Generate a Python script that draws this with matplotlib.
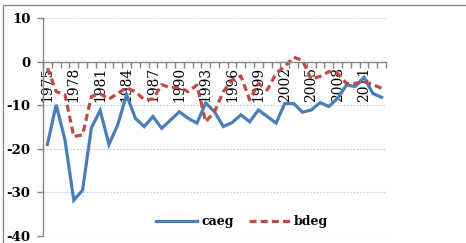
import numpy as np
import matplotlib
matplotlib.use("Agg")
import matplotlib.pyplot as plt
from matplotlib.patches import Rectangle

years = list(range(1975, 2014))
caeg = [-19.0, -9.9, -18.0, -31.8, -29.5, -15.2, -11.2, -19.0, -14.5, -7.6,
        -13.0, -14.9, -12.6, -15.3, -13.4, -11.5, -13.0, -14.1, -9.5, -11.5,
        -14.9, -14.0, -12.2, -13.8, -11.1, -12.6, -14.1, -9.6, -9.6, -11.6,
        -11.1, -9.4, -10.3, -8.4, -5.4, -5.7, -3.6, -7.3, -8.2]
bdeg = [-1.5, -6.9, -7.6, -17.2, -16.8, -8.0, -7.4, -8.6, -7.3, -6.0,
        -6.9, -8.7, -8.6, -5.3, -6.0, -5.9, -6.9, -5.4, -13.8, -11.5,
        -6.9, -4.2, -3.3, -8.8, -5.0, -6.5, -2.7, -1.1, 1.0, 0.3,
        -4.0, -3.4, -2.3, -2.7, -5.0, -5.0, -4.6, -5.3, -6.1]
yticks = [10, 0, -10, -20, -30, -40]

W, H, DPI = 466, 243, 100
fig = plt.figure(figsize=(W / DPI, H / DPI), dpi=DPI)
fig.patch.set_facecolor("white")

left, right, top, bottom = 43, 386, 18, 236
ax = fig.add_axes([left / W, 1 - bottom / H, (right - left) / W, (bottom - top) / H])

serif = ["DejaVu Serif"]

x = np.arange(len(years))
ax.plot(x, caeg, color="#4a7ebb", lw=2.3, label="caeg", solid_joinstyle="miter")
ax.plot(x, bdeg, color="#be4b48", lw=2.3, ls=(0, (2.2, 1.3)), label="bdeg")

ax.set_xlim(-0.5, len(years) - 0.5)
ax.set_ylim(-40, 10)

for s in ["top", "right"]:
    ax.spines[s].set_visible(False)
ax.spines["bottom"].set_position(("data", 0))
ax.spines["bottom"].set_color("#868686")
ax.spines["left"].set_color("#868686")
ax.spines["bottom"].set_linewidth(1.0)
ax.spines["left"].set_linewidth(1.0)

ax.set_yticks(yticks)
ax.set_yticklabels([str(v) for v in yticks], fontfamily=serif, fontweight="bold", fontsize=9.5)
ax.tick_params(axis="y", direction="out", length=4, width=1, color="#868686", pad=5)

major = list(range(0, len(years), 3))
ax.set_xticks(major)
ax.set_xticklabels([str(years[i]) for i in major], rotation=90, fontfamily=serif,
                   fontsize=10, va="top", ha="center")
ax.tick_params(axis="x", which="major", length=0, pad=4)
ax.set_xticks(np.arange(-0.5, len(years), 1.0), minor=True)
ax.tick_params(axis="x", which="minor", direction="out", length=4, width=1, color="#868686")

for v in [10, -10, -20, -30, -40]:
    ax.axhline(v, color="#b9cdea", lw=0.8, ls=(0, (1.5, 1.5)), zorder=0)

leg = ax.legend(loc="center", bbox_to_anchor=(0.58, 0.065), ncol=2, frameon=False,
                handlelength=3.3, columnspacing=1.2, handletextpad=0.3,
                prop={"family": serif, "weight": "bold", "size": 9})

fig.patches.append(Rectangle((3 / W, -0.1), 1.2, 1 - 5 / H + 0.1, transform=fig.transFigure,
                             fill=False, edgecolor="#8c8c8c", lw=1.0, clip_on=False))

fig.savefig("out.png", dpi=DPI)
